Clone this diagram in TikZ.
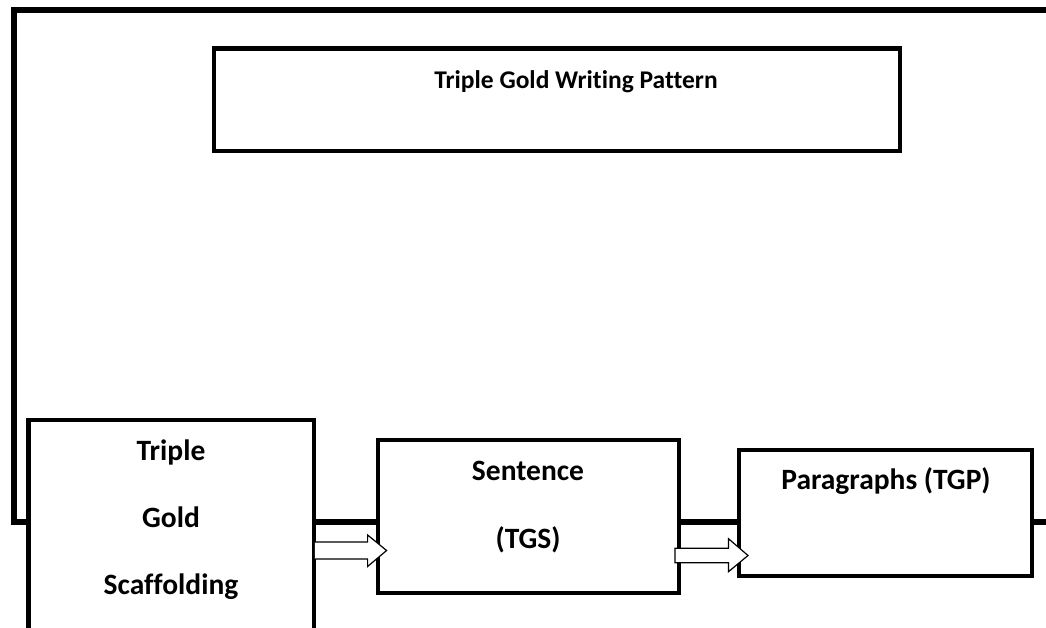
\documentclass[tikz,border=0pt]{standalone}
\usepackage{fontspec}
\setmainfont{Carlito}[Ligatures=NoCommon]
\usetikzlibrary{calc}
\begin{document}
\begin{tikzpicture}[x=1pt,y=-1pt,
  frameline/.style={line width=6pt,line cap=butt},
  boxstyle/.style={draw,fill=white,line width=4.8pt,rectangle,inner sep=0pt},
  lbl/.style={font=\bfseries\fontsize{29.5}{29.5}\selectfont,inner sep=0pt,anchor=base},
  ttl/.style={font=\bfseries\fontsize{25.5}{25.5}\selectfont,inner sep=0pt,anchor=base},
  blockarrow/.style={draw,fill=white,line width=1.2pt,line join=miter}
]
\useasboundingbox (0,0) rectangle (1046,628);
% outer frame
\coordinate (ftl) at (14,10);
\coordinate (ftr) at (1046,10);
\coordinate (fbl) at (14,522);
\coordinate (fbr) at (1046,522);
\draw[frameline] (ftr) -- (ftl) -- (fbl) -- (fbr);
\draw[line width=6pt] (11,10) -- (ftl);
% title box
\node[boxstyle,minimum width=686pt,minimum height=102.5pt] (title) at (557,99.75) {};
\node[ttl] (titlet) at (576,89) {Triple Gold Writing Pattern};
% box 1
\node[boxstyle,minimum width=285.5pt,minimum height=216pt] (b1) at (171.25,528) {};
\node[lbl] (b1a) at (171,460) {Triple};
\node[lbl] (b1b) at (171,527) {Gold};
\node[lbl] (b1c) at (171,594) {Scaffolding};
% box 2
\node[boxstyle,minimum width=301pt,minimum height=153pt] (b2) at (528.5,516.5) {};
\node[lbl] (b2a) at (528,480) {Sentence};
\node[lbl] (b2b) at (528,548) {(TGS)};
% box 3
\node[boxstyle,minimum width=293pt,minimum height=126pt] (b3) at (885.5,513) {};
\node[lbl] (b3a) at (886,489) {Paragraphs (TGP)};
% block arrows (connectors between boxes)
\coordinate (a1s) at ($(b1.east |- {(0,550.5)})+(-1.5,0)$);
\coordinate (a1e) at ($(b2.west |- {(0,550.5)})+(11,0)$);
\coordinate (a2s) at ($(b2.east |- {(0,555.5)})+(-6.4,0)$);
\coordinate (a2e) at ($(b3.west |- {(0,555.5)})+(11.4,0)$);
\draw[blockarrow] ($(a1s)+(0,-8.5)$) -- ($(a1e)+(-19,-8.5)$) -- ($(a1e)+(-19,-15.5)$) -- (a1e)
  -- ($(a1e)+(-19,16)$) -- ($(a1e)+(-19,8.5)$) -- ($(a1s)+(0,8.5)$);
\draw[blockarrow] ($(a2s)+(0,-7.2)$) -- ($(a2e)+(-19.5,-7.2)$) -- ($(a2e)+(-19.5,-16.8)$) -- (a2e)
  -- ($(a2e)+(-19.5,16.2)$) -- ($(a2e)+(-19.5,7.2)$) -- ($(a2s)+(0,7.2)$) -- cycle;
\end{tikzpicture}
\end{document}
